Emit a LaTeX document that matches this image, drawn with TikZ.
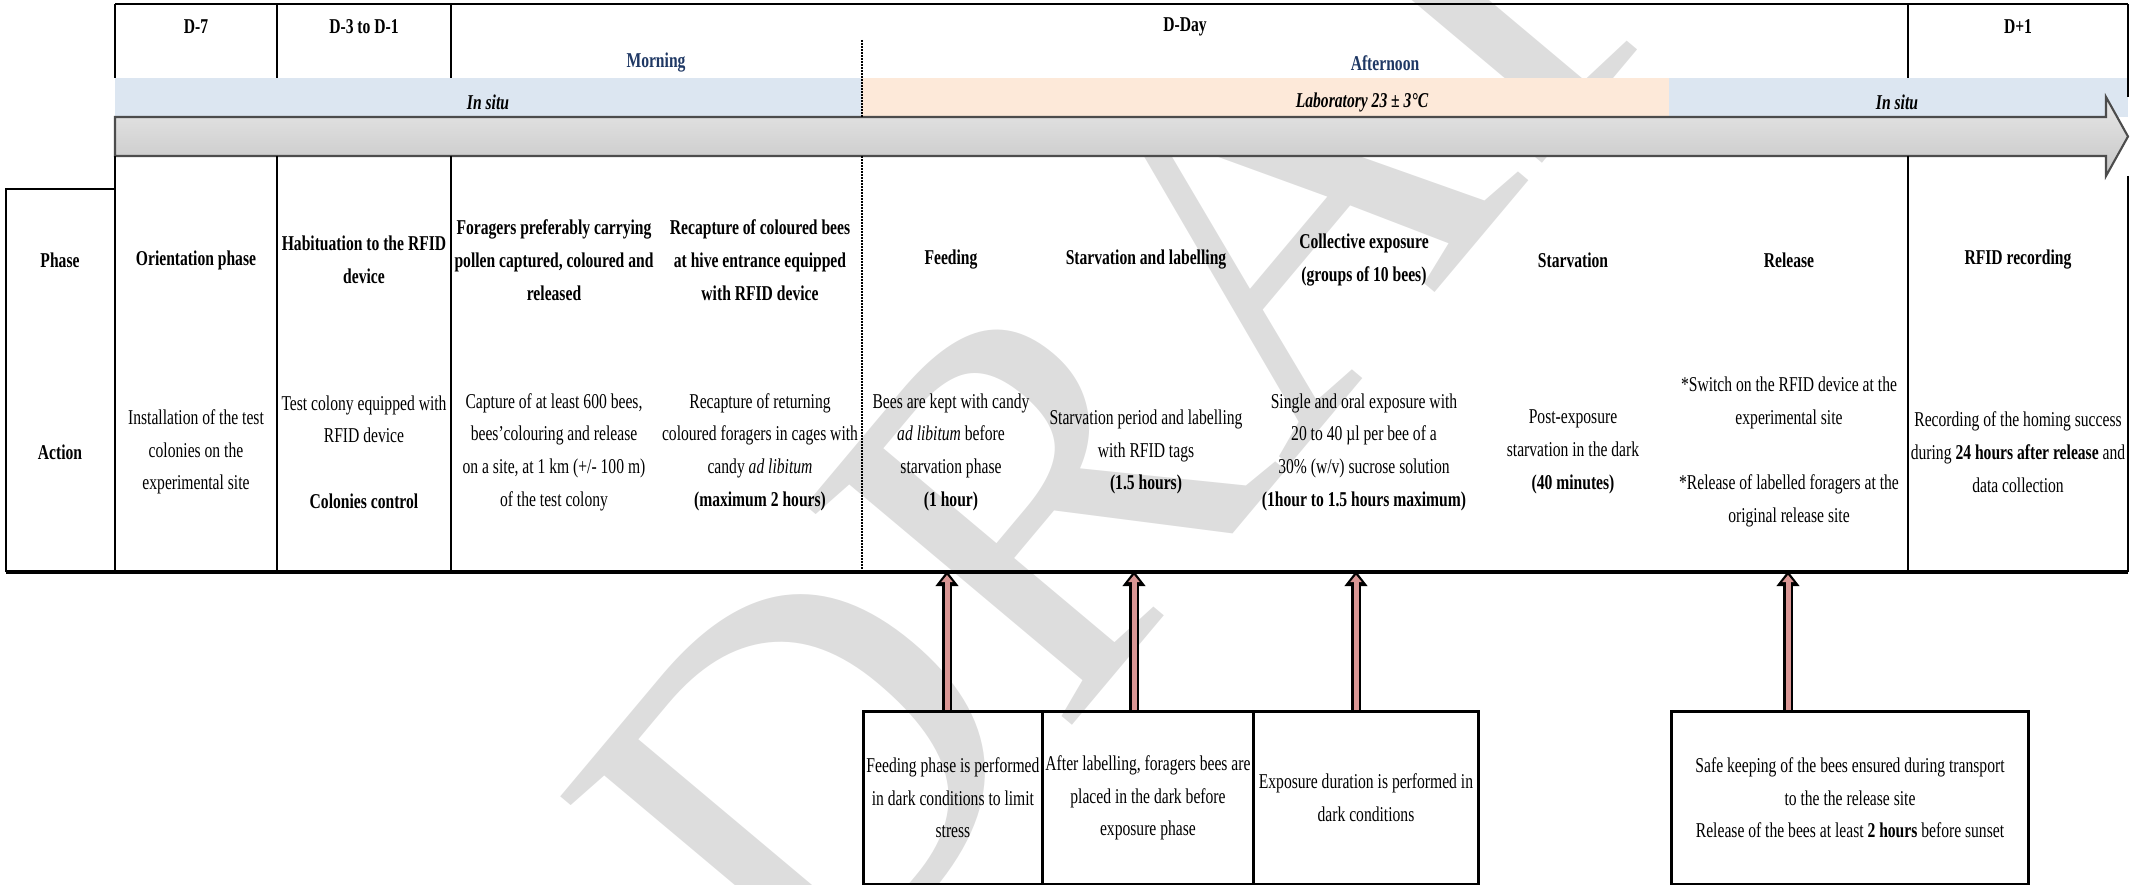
\documentclass[tikz,border=0pt]{standalone}
\usepackage{fontspec}
\setmainfont[FakeStretch=0.74]{Liberation Serif}
\newfontfamily\draftfont{Liberation Serif}
\usetikzlibrary{positioning,arrows.meta}
\definecolor{insitu}{RGB}{220,230,241}
\definecolor{labo}{RGB}{253,233,217}
\definecolor{navy}{RGB}{31,56,100}
\definecolor{pinkarrow}{RGB}{217,150,148}
\definecolor{barlight}{RGB}{232,232,232}
\definecolor{bardark}{RGB}{198,198,198}
\begin{document}
\begin{tikzpicture}[
	x=0.01cm, y=-0.01cm,
	txt/.style={align=center, inner sep=0pt, font=\fontsize{6}{9.3}\selectfont},
	head/.style={align=center, inner sep=0pt, font=\fontsize{6}{9.3}\selectfont\bfseries},
	period/.style={head, text=navy},
	place/.style={align=center, inner sep=0pt, font=\fontsize{6}{9.3}\selectfont\bfseries\itshape},
	notebox/.style={txt, draw, line width=0.8pt, anchor=north west, minimum height=1.73cm},
	frame/.style={line width=0.8pt},
	rule/.style={line width=0.5pt},
	split/.style={line width=0.3pt, dash pattern=on 0.02cm off 0.01cm},
	upout/.style={line width=0.1cm, -{Triangle[width=0.22cm, length=0.15cm]}},
	upin/.style={pinkarrow, line width=0.05cm, shorten >=0.04cm, -{Triangle[width=0.11cm, length=0.07cm]}}
	]
	\useasboundingbox (0,0) rectangle (2147,885);
	\node[rotate=50, text=gray!27, font=\draftfont\fontsize{150}{150}\selectfont] (draft) at (1238,257) {DRAFT};

	\fill[insitu] (115,78) rectangle (862,117);
	\fill[labo] (862,78) rectangle (1669,117);
	\fill[insitu] (1669,78) rectangle (2128,117);
	\shade[top color=barlight, bottom color=bardark, draw=black!70, line width=0.6pt]
		(115,117) -- (2106,117) -- (2106,97) -- (2128,136.5) -- (2106,176) -- (2106,156) -- (115,156) -- cycle;

	\draw[frame] (115,4) -- (2128,4);
	\draw[frame] (115,4) -- (115,78) (115,156) -- (115,572);
	\draw[frame] (2128,4) -- (2128,97) (2128,176) -- (2128,572);
	\draw[frame] (6,572) -- (6,189) -- (115,189);
	\draw[line width=1.1pt] (6,572) -- (2128,572);
	\draw[rule] (277,4) -- (277,78) (277,156) -- (277,572);
	\draw[rule] (451,4) -- (451,78) (451,156) -- (451,572);
	\draw[rule] (1908,4) -- (1908,78) (1908,156) -- (1908,572);
	\draw[split] (862,40) -- (862,117) (862,156) -- (862,572);

	\node[head] (d7) at (196,27) {D-7};
	\node[head] (d3) at (364,27) {D-3 to D-1};
	\node[head] (dday) at (1185,27) {D-Day};
	\node[head] (dplus) at (2018,27) {D+1};
	\node[period] (morning) at (656,63) {Morning};
	\node[period] (afternoon) at (1385,63) {Afternoon};
	\node[place] (situleft) at (488,102) {In situ};
	\node[place] (lab) at (1362,102) {Laboratory 23 ± 3°C};
	\node[place] (situright) at (1897,102) {In situ};

	\node[head] (phase) at (60,260) {Phase};
	\node[head] (action) at (60,452) {Action};

	\node[head] (orient) at (196,260) {Orientation phase};
	\node[head] (habit) at (364,260) {Habituation to the RFID\\device};
	\node[head] (capture) at (554,260) {Foragers preferably carrying\\pollen captured, coloured and\\released};
	\node[head] (recapture) at (760,260) {Recapture of coloured bees\\at hive entrance equipped\\with RFID device};
	\node[head] (feeding) at (951,260) {Feeding};
	\node[head] (starvlab) at (1146,260) {Starvation and labelling};
	\node[head] (exposure) at (1364,260) {Collective exposure\\(groups of 10 bees)};
	\node[head] (starv) at (1573,260) {Starvation};
	\node[head] (release) at (1789,260) {Release};
	\node[head] (rfid) at (2018,260) {RFID recording};

	\node[txt] (orientdo) at (196,452) {Installation of the test\\colonies on the\\experimental site};
	\node[txt] (habitdo) at (364,452) {Test colony equipped with\\RFID device\\[9.3pt]\textbf{Colonies control}};
	\node[txt] (capturedo) at (554,452) {Capture of at least 600 bees,\\bees'colouring and release\\on a site, at 1 km (+/- 100 m)\\of the test colony};
	\node[txt] (recapturedo) at (760,452) {Recapture of returning\\coloured foragers in cages with\\candy \textit{ad libitum}\\\textbf{(maximum 2 hours)}};
	\node[txt] (feedingdo) at (951,452) {Bees are kept with candy\\\textit{ad libitum} before\\starvation phase\\\textbf{(1 hour)}};
	\node[txt] (starvlabdo) at (1146,452) {Starvation period and labelling\\with RFID tags\\\textbf{(1.5 hours)}};
	\node[txt] (exposuredo) at (1364,452) {Single and oral exposure with\\20 to 40 µl per bee of a\\30\% (w/v) sucrose solution\\\textbf{(1hour to 1.5 hours maximum)}};
	\node[txt] (starvdo) at (1573,452) {Post-exposure\\starvation in the dark\\\textbf{(40 minutes)}};
	\node[txt] (releasedo) at (1789,452) {*Switch on the RFID device at the\\experimental site\\[9.3pt]*Release of labelled foragers at the\\original release site};
	\node[txt] (rfiddo) at (2018,452) {Recording of the homing success\\during \textbf{24 hours after release} and\\data collection};

	\node[notebox, minimum width=1.79cm] (note1) at (862,710) {Feeding phase is performed\\in dark conditions to limit\\stress};
	\node[notebox, minimum width=2.11cm] (note2) at (1041,710) {After labelling, foragers bees are\\placed in the dark before\\exposure phase};
	\node[notebox, minimum width=2.25cm] (note3) at (1252,710) {Exposure duration is performed in\\dark conditions};
	\node[notebox, minimum width=3.57cm] (note4) at (1670,710) {Safe keeping of the bees ensured during transport\\to the the release site\\Release of the bees at least \textbf{2 hours} before sunset};

	\coordinate (tip1) at (947,571);
	\coordinate (tip2) at (1134,571);
	\coordinate (tip3) at (1356,571);
	\coordinate (tip4) at (1788,571);
	\foreach \n in {1,2,3,4}{
		\draw[upout] (tip\n |- note\n.north) -- (tip\n);
		\draw[upin] (tip\n |- note\n.north) -- (tip\n);
	}
\end{tikzpicture}
\end{document}
